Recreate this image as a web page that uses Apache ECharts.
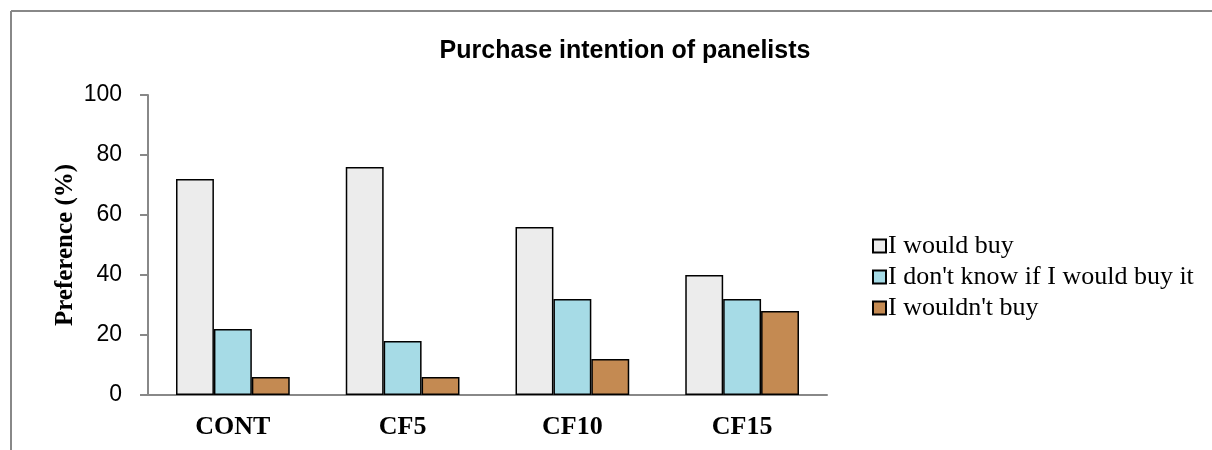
<!DOCTYPE html>
<html>
<head>
<meta charset="utf-8">
<script src="https://cdn.jsdelivr.net/npm/echarts@6/dist/echarts.min.js"></script>
<style>
  html, body { margin: 0; padding: 0; background: #fff; }
  #chart { width: 1212px; height: 450px; }
</style>
</head>
<body>
<div id="chart"></div>
<script>
const categories = ['CONT', 'CF5', 'CF10', 'CF15']
const wouldBuy = [72, 76, 56, 40]
const dontKnow = [22, 18, 32, 32]
const wouldntBuy = [6, 6, 12, 28]
const yTicks = { min: 0, max: 100, interval: 20 }

const chart = echarts.init(document.getElementById('chart'), null, {
  devicePixelRatio: window.devicePixelRatio || 1
})

function barSeries(name, data, color) {
  return {
    name,
    type: 'bar',
    data,
    barGap: '0%',
    barCategoryGap: '33%',
    itemStyle: { color, borderColor: '#000', borderWidth: 1.5 }
  }
}

chart.setOption({
  animation: false,
  title: {
    text: 'Purchase intention of panelists',
    left: 620,
    textAlign: 'center',
    top: 34,
    textStyle: { fontFamily: 'Liberation Sans', fontWeight: 'bold', fontSize: 25, color: '#000' }
  },
  graphic: [
    { type: 'line', shape: { x1: 11, y1: 11, x2: 1212, y2: 11 }, style: { stroke: '#888', lineWidth: 2 } },
    { type: 'line', shape: { x1: 11, y1: 11, x2: 11, y2: 450 }, style: { stroke: '#888', lineWidth: 2 } }
  ],
  legend: {
    orient: 'vertical',
    left: 867,
    top: 228,
    itemWidth: 13,
    itemHeight: 13,
    itemGap: 5,
    icon: 'rect',
    textStyle: { fontFamily: 'Liberation Serif', fontSize: 26, color: '#000', padding: [0, 0, 0, -3] }
  },
  grid: { left: 148, right: 385, top: 95, bottom: 55, containLabel: false },
  xAxis: {
    type: 'category',
    data: categories,
    axisLine: { lineStyle: { color: '#888', width: 2 } },
    axisTick: { show: false },
    axisLabel: { fontFamily: 'Liberation Serif', fontWeight: 'bold', fontSize: 26, color: '#000', margin: 19 }
  },
  yAxis: {
    type: 'value',
    min: yTicks.min,
    max: yTicks.max,
    interval: yTicks.interval,
    name: 'Preference (%)',
    nameLocation: 'middle',
    nameRotate: 90,
    nameGap: 70,
    nameMoveOverlap: false,
    nameTextStyle: { fontFamily: 'Liberation Serif', fontWeight: 'bold', fontSize: 25, color: '#000' },
    axisLine: { show: true, lineStyle: { color: '#888', width: 2 } },
    axisTick: { show: true, length: 8, lineStyle: { color: '#888', width: 2 } },
    splitLine: { show: false },
    axisLabel: { fontFamily: 'Liberation Sans', fontSize: 23, color: '#000', margin: 26 }
  },
  series: [
    barSeries('I would buy', wouldBuy, '#ececec'),
    barSeries("I don't know if I would buy it", dontKnow, '#a6dbe6'),
    barSeries("I wouldn't buy", wouldntBuy, '#c48a52')
  ]
})
</script>
</body>
</html>
